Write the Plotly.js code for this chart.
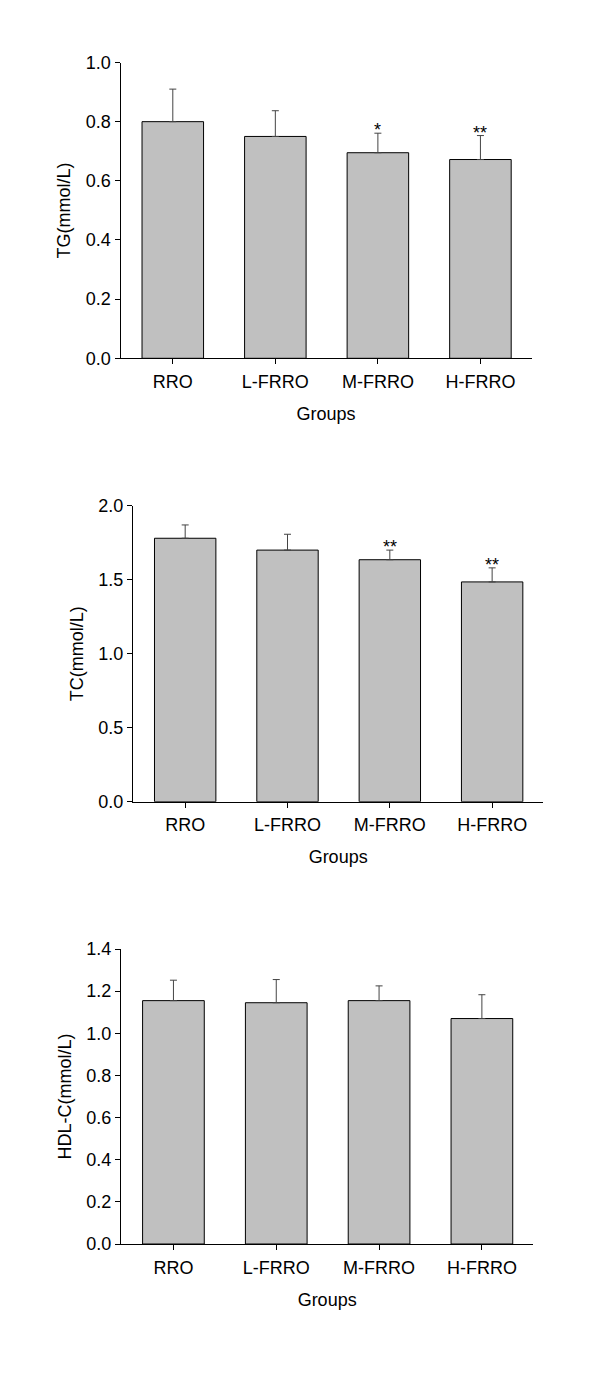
<!DOCTYPE html>
<html>
<head>
<meta charset="utf-8">
<script src="https://cdn.plot.ly/plotly-3.0.1.min.js"></script>
<style>html,body{margin:0;padding:0;background:#fff;}#chart{width:600px;height:1376px;}</style>
</head>
<body>
<div id="chart"></div>
<script>
var groups = ["RRO", "L-FRRO", "M-FRRO", "H-FRRO"];

var tgMean = [0.80, 0.75, 0.695, 0.672];
var tgSD   = [0.11, 0.087, 0.066, 0.081];
var tgSig  = ["", "", "*", "**"];

var tcMean = [1.78, 1.70, 1.635, 1.485];
var tcSD   = [0.09, 0.107, 0.065, 0.095];
var tcSig  = ["", "", "**", "**"];

var hdlMean = [1.155, 1.145, 1.155, 1.07];
var hdlSD   = [0.097, 0.11, 0.07, 0.113];
var hdlSig  = ["", "", "", ""];

var yTitles = ["TG(mmol/L)", "TC(mmol/L)", "HDL-C(mmol/L)"];
var xTitle = "Groups";

var panels = [
  {mean: tgMean, sd: tgSD, sig: tgSig, range: [0, 1.0], dtick: 0.2, fmt: ".1f"},
  {mean: tcMean, sd: tcSD, sig: tcSig, range: [0, 2.0], dtick: 0.5, fmt: ".1f"},
  {mean: hdlMean, sd: hdlSD, sig: hdlSig, range: [0, 1.4], dtick: 0.2, fmt: ".1f"}
];

var W = 600, H = 1376;
// plot areas in px: [left, right, top, bottom]
var boxes = [
  [120.5, 531.7, 62.5, 358.3],
  [133.0, 543.3, 505.7, 801.7],
  [121.0, 533.3, 949.0, 1244.0]
];

var font = "Liberation Sans, Arial, sans-serif";
var data = [];
var annotations = [];
var layout = {
  width: W, height: H,
  margin: {l: 0, r: 0, t: 0, b: 0},
  paper_bgcolor: "#fff", plot_bgcolor: "#fff",
  showlegend: false,
  font: {family: font, size: 18, color: "#000"}
};

panels.forEach(function (p, i) {
  var n = i === 0 ? "" : String(i + 1);
  var xa = "x" + n, ya = "y" + n;
  var zeros = p.mean.map(function () { return 0; });
  data.push({
    type: "bar",
    x: groups, y: p.mean,
    xaxis: xa, yaxis: ya,
    marker: {color: "#c0c0c0", line: {color: "#000", width: 1}},
    width: 0.6,
    error_y: {type: "data", symmetric: false, array: p.sd, arrayminus: zeros,
              color: "#444", thickness: 1, width: 3.5},
    hoverinfo: "none"
  });
  var b = boxes[i];
  layout["xaxis" + n] = {
    domain: [b[0] / W, b[1] / W],
    anchor: ya,
    type: "category",
    range: [-0.51, 3.5],
    showgrid: false, zeroline: false,
    showline: true, linecolor: "#000", linewidth: 1,
    ticks: "outside", ticklen: 5, tickcolor: "#000",
    ticklabelstandoff: 2,
    tickfont: {family: font, size: 18, color: "#000"},
    title: {text: xTitle, font: {family: font, size: 18, color: "#000"}, standoff: 16},
    fixedrange: true
  };
  layout["yaxis" + n] = {
    domain: [1 - b[3] / H, 1 - b[2] / H],
    anchor: xa,
    range: p.range,
    dtick: p.dtick, tick0: 0,
    tickformat: p.fmt,
    showgrid: false, zeroline: false,
    showline: true, linecolor: "#000", linewidth: 1,
    ticks: "outside", ticklen: 5, tickcolor: "#000",
    tickfont: {family: font, size: 18, color: "#000"},
    title: {text: yTitles[i], font: {family: font, size: 18, color: "#000"}, standoff: 10},
    fixedrange: true
  };
  groups.forEach(function (g, j) {
    if (p.sig[j]) {
      annotations.push({
        xref: xa, yref: ya, x: g, y: p.mean[j] + p.sd[j],
        text: p.sig[j], showarrow: false,
        xanchor: "center", yanchor: "bottom", yshift: -9,
        font: {family: font, size: 18, color: "#000"}
      });
    }
  });
});
layout.annotations = annotations;

Plotly.newPlot("chart", data, layout, {displayModeBar: false, staticPlot: true});
</script>
</body>
</html>
